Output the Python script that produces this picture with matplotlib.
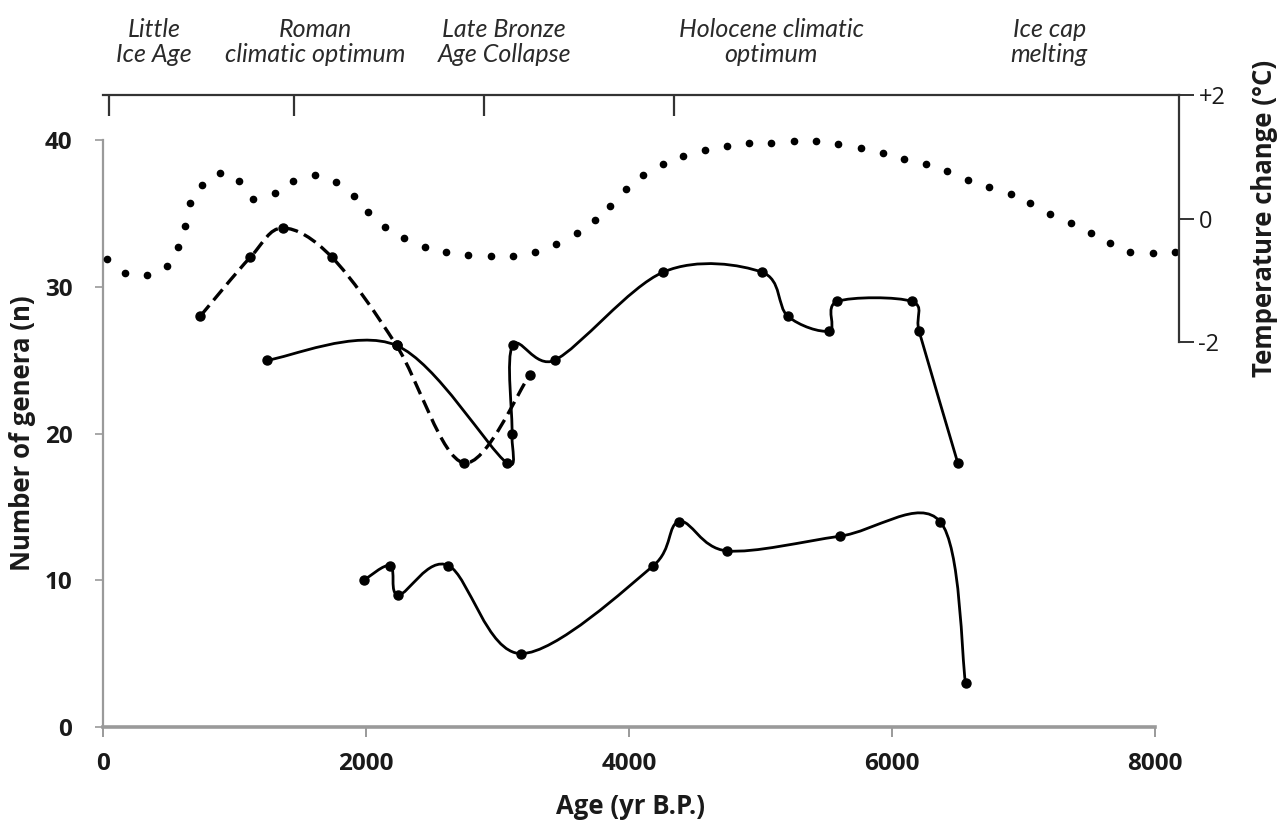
import numpy as np
import matplotlib.pyplot as plt
from matplotlib.path import Path
from matplotlib.patches import PathPatch
from matplotlib.transforms import blended_transform_factory

plt.rcParams['font.family'] = ['Open Sans', 'DejaVu Sans']

# dashed series (number of genera vs age)
age_dashed = [740, 1119, 1367, 1742, 2232, 2742, 3246]
genera_dashed = [28, 32, 34, 32, 26, 18, 24]

# upper solid series
age_upper = [1250, 2232, 3070, 3110, 3115, 3436, 4261, 5009, 5207, 5523, 5584, 6150, 6205, 6500]
genera_upper = [25, 26, 18, 20, 26, 25, 31, 31, 28, 27, 29, 29, 27, 18]

# lower solid series
age_lower = [1983, 2186, 2247, 2627, 3180, 4186, 4383, 4746, 5603, 6366, 6559]
genera_lower = [10, 11, 9, 11, 5, 11, 14, 12, 13, 14, 3]

# temperature change curve (dotted), deg C
temp_age = [32, 169, 332, 484, 571, 624, 664, 752, 892, 1037, 1139, 1306, 1445, 1611,
            1772, 1906, 2019, 2141, 2290, 2448, 2610, 2779, 2951, 3120, 3286, 3447,
            3601, 3741, 3857, 3974, 4110, 4262, 4410, 4577, 4744, 4910, 5083, 5252,
            5419, 5592, 5765, 5932, 6095, 6259, 6415, 6582, 6739, 6903, 7049, 7202,
            7359, 7511, 7658, 7810, 7982, 8152]
temp_change = [-0.66, -0.89, -0.92, -0.77, -0.46, -0.12, 0.25, 0.55, 0.74, 0.61, 0.32,
               0.41, 0.60, 0.70, 0.59, 0.37, 0.11, -0.13, -0.32, -0.46, -0.54, -0.59,
               -0.61, -0.61, -0.54, -0.41, -0.24, -0.03, 0.21, 0.48, 0.70, 0.88, 1.01,
               1.11, 1.17, 1.22, 1.23, 1.26, 1.26, 1.20, 1.14, 1.06, 0.97, 0.89, 0.77,
               0.62, 0.51, 0.40, 0.25, 0.08, -0.08, -0.23, -0.40, -0.55, -0.56, -0.55]

# climate periods on the top axis
periods = ['Little\nIce Age', 'Roman\nclimatic optimum', 'Late Bronze\nAge Collapse',
           'Holocene climatic\noptimum', 'Ice cap\nmelting']
period_age = [387, 1616, 3051, 5080, 7195]
boundary_age = [44, 1450, 2895, 4340]

temp_ticks = [2, 0, -2]
temp_ticklabels = ['+2', '0', '-2']


def smooth_path(axis, x, y):
    # spreadsheet-style smoothed line: Bezier segments with 1/6 tangents,
    # shortened on short segments (worked out in screen space)
    pts = axis.transData.transform(np.column_stack([x, y]).astype(float))
    n = len(pts)
    verts = [pts[0]]
    codes = [Path.MOVETO]
    for i in range(n - 1):
        p0 = pts[i - 1] if i > 0 else pts[i]
        p1 = pts[i]
        p2 = pts[i + 1]
        p3 = pts[i + 2] if i + 2 < n else pts[i + 1]
        d12 = np.hypot(*(p2 - p1))
        d02 = np.hypot(*(p2 - p0))
        d13 = np.hypot(*(p3 - p1))
        f0 = min(1 / 6, d12 / (2 * d02)) if d02 > 0 else 0
        f1 = min(1 / 6, d12 / (2 * d13)) if d13 > 0 else 0
        verts += [p1 + (p2 - p0) * f0, p2 - (p3 - p1) * f1, p2]
        codes += [Path.CURVE4] * 3
    verts = axis.transData.inverted().transform(np.array(verts))
    return Path(verts, codes)


W, H = 1287, 823
fig = plt.figure(figsize=(W / 100, H / 100), dpi=100)

ax = fig.add_axes([103 / W, 1 - 727 / H, (1155 - 103) / W, (727 - 140) / H])
ax.set_xlim(0, 8000)
ax.set_ylim(0, 40)
ax.set_xticks([0, 2000, 4000, 6000, 8000])
ax.set_yticks([0, 10, 20, 30, 40])
for s in ['top', 'right']:
    ax.spines[s].set_visible(False)
ax.spines['left'].set_color('#9a9a9a')
ax.spines['left'].set_linewidth(1.6)
ax.spines['bottom'].set_color('#9a9a9a')
ax.spines['bottom'].set_linewidth(2.6)
ax.tick_params(axis='x', direction='out', length=7, width=1.4, color='#9a9a9a',
               pad=11, labelsize=17.5)
ax.tick_params(axis='y', direction='out', length=6, width=1.2, color='#9a9a9a',
               pad=16, labelsize=17.5)
for lbl in ax.get_xticklabels() + ax.get_yticklabels():
    lbl.set_fontweight('bold')
    lbl.set_color('#1a1a1a')

ax.add_patch(PathPatch(smooth_path(ax, age_dashed, genera_dashed), fill=False, color='black',
                       lw=2.4, linestyle=(0, (4.2, 2.0)), capstyle='butt'))
ax.add_patch(PathPatch(smooth_path(ax, age_upper, genera_upper), fill=False, color='black', lw=2.0))
ax.add_patch(PathPatch(smooth_path(ax, age_lower, genera_lower), fill=False, color='black', lw=2.0))
for xs, ys in [(age_dashed, genera_dashed), (age_upper, genera_upper), (age_lower, genera_lower)]:
    ax.plot(xs, ys, linestyle='none', marker='o', ms=6.5, color='black', clip_on=False)

# temperature axes (top + right)
tax = fig.add_axes([103 / W, 1 - 342 / H, (1179 - 103) / W, (342 - 95) / H])
tax.patch.set_visible(False)
tax.set_xlim(0, 8183)
tax.set_ylim(-2, 2)
tax.spines['left'].set_visible(False)
tax.spines['bottom'].set_visible(False)
for s in ['top', 'right']:
    tax.spines[s].set_color('#333333')
    tax.spines[s].set_linewidth(1.6)
tax.xaxis.tick_top()
tax.set_xticks(boundary_age)
tax.set_xticklabels([])
tax.tick_params(axis='x', direction='in', length=15, width=1.6, color='#333333')
tax.yaxis.tick_right()
tax.set_yticks(temp_ticks)
tax.set_yticklabels(temp_ticklabels)
tax.tick_params(axis='y', direction='out', length=11, width=1.4, color='#333333',
                pad=3, labelsize=17, labelcolor='#1a1a1a')
tax.plot(temp_age, temp_change, linestyle='none', marker='o', ms=4.5, color='black',
         clip_on=False)

trans = blended_transform_factory(ax.transData, fig.transFigure)
for name, xa in zip(periods, period_age):
    ax.text(xa, 1 - 42 / H, name, transform=trans, ha='center', va='center',
            fontsize=18, style='italic', color='#2a2a2a', linespacing=1.15,
            family=['Lato', 'DejaVu Sans'])

fig.text(630 / W, 1 - 806 / H, 'Age (yr B.P.)', ha='center', va='center',
         fontsize=18.5, fontweight='bold', color='#1a1a1a')
fig.text(23 / W, 1 - 433 / H, 'Number of genera (n)', ha='center', va='center',
         rotation=90, fontsize=18.5, fontweight='bold', color='#1a1a1a')
fig.text(1264 / W, 1 - 218 / H, 'Temperature change (°C)', ha='center', va='center',
         rotation=90, fontsize=18.5, fontweight='bold', color='#1a1a1a')

fig.savefig('out.png', dpi=100)
